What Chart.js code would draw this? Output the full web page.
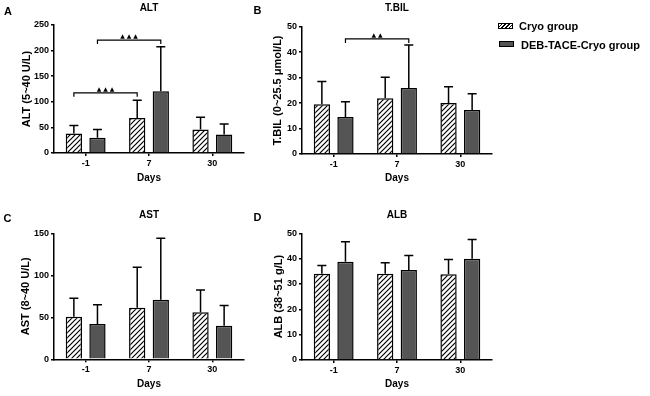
<!DOCTYPE html>
<html lang="en">

<head>
    <meta charset="UTF-8">
    <title>Liver function</title>
    <script src="https://cdn.jsdelivr.net/npm/chart.js"></script>
    <style>
        body {
            margin: 0;
            padding: 0;
            background: #ffffff;
            font-family: 'Liberation Sans', Arial, sans-serif;
        }

        .wrap {
            position: relative;
            width: 650px;
            height: 396px;
        }

        canvas {
            position: absolute;
        }

        .legend-box {
            position: absolute;
            width: 13px;
            height: 4px;
            border: 1px solid #000;
        }

        .legend-text {
            position: absolute;
            font-size: 11px;
            font-weight: bold;
            color: #000;
            line-height: 12px;
            white-space: nowrap;
        }
    </style>
</head>

<body>
    <div class="wrap">
        <canvas id="chartA" width="250" height="196" style="left:0;top:0"></canvas>
        <canvas id="chartB" width="250" height="196" style="left:248px;top:0"></canvas>
        <canvas id="chartC" width="250" height="196" style="left:0;top:200px"></canvas>
        <canvas id="chartD" width="250" height="196" style="left:248px;top:200px"></canvas>

        <div class="legend-box" style="left:498px;top:23px;background:repeating-linear-gradient(135deg,#fff 0,#fff 1.6px,#000 1.6px,#000 2.6px)"></div>
        <div class="legend-text" style="left:519px;top:20px">Cryo group</div>
        <div class="legend-box" style="left:499px;top:41px;background:#555"></div>
        <div class="legend-text" style="left:521px;top:39px">DEB-TACE-Cryo group</div>
    </div>

    <script>
        // means and SD (upper error bar only)
        const days = ['-1', '7', '30'];

        const altCryo = [38, 68.5, 45.7];
        const altCryoSd = [15.5, 34.5, 24.1];
        const altDeb = [30, 120.8, 35.9];
        const altDebSd = [15.7, 86.8, 20.9];

        const tbilCryo = [19.5, 21.9, 20.0];
        const tbilCryoSd = [9.0, 8.2, 6.4];
        const tbilDeb = [14.5, 25.9, 17.3];
        const tbilDebSd = [6.0, 16.9, 6.4];

        const astCryo = [50.8, 61.5, 56];
        const astCryoSd = [21.8, 48, 26.5];
        const astDeb = [42, 71, 40];
        const astDebSd = [23, 73, 23.9];

        const albCryo = [34, 34, 33.8];
        const albCryoSd = [3.3, 4.4, 5.9];
        const albDeb = [38.8, 35.5, 40];
        const albDebSd = [7.9, 5.7, 7.6];

        const FONT = "'Liberation Sans', Arial, sans-serif";

        function makeHatch() {
            const c = document.createElement('canvas');
            c.width = 5;
            c.height = 5;
            const g = c.getContext('2d');
            g.fillStyle = '#fff';
            g.fillRect(0, 0, 5, 5);
            g.strokeStyle = '#000';
            g.lineWidth = 1.2;
            g.beginPath();
            g.moveTo(-1, 6); g.lineTo(6, -1);
            g.moveTo(-1, 1); g.lineTo(1, -1);
            g.moveTo(4, 6); g.lineTo(6, 4);
            g.stroke();
            return g.createPattern(c, 'repeat');
        }

        const hatch = makeHatch();

        // upward error bars with a cap
        const errorBars = {
            id: 'errorBars',
            afterDatasetsDraw(chart) {
                const ctx = chart.ctx;
                const y = chart.scales.y;
                ctx.save();
                ctx.strokeStyle = '#000';
                ctx.lineWidth = 1.5;
                chart.data.datasets.forEach((ds, i) => {
                    chart.getDatasetMeta(i).data.forEach((bar, j) => {
                        const top = y.getPixelForValue(ds.data[j] + ds.sd[j]);
                        ctx.beginPath();
                        ctx.moveTo(bar.x, bar.y);
                        ctx.lineTo(bar.x, top);
                        ctx.moveTo(bar.x - 4.5, top);
                        ctx.lineTo(bar.x + 4.5, top);
                        ctx.stroke();
                    });
                });
                ctx.restore();
            }
        };

        // significance brackets, marks drawn one by one so they sit apart
        const brackets = {
            id: 'brackets',
            afterDatasetsDraw(chart, args, opts) {
                const ctx = chart.ctx;
                const y = chart.scales.y;
                ctx.save();
                ctx.strokeStyle = '#000';
                ctx.fillStyle = '#000';
                ctx.lineWidth = 1.2;
                (opts.items || []).forEach(b => {
                    const x1 = chart.getDatasetMeta(b.from[0]).data[b.from[1]].x;
                    const x2 = chart.getDatasetMeta(b.to[0]).data[b.to[1]].x;
                    const py = y.getPixelForValue(b.y);
                    ctx.beginPath();
                    ctx.moveTo(x1, py + 4);
                    ctx.lineTo(x1, py);
                    ctx.lineTo(x2, py);
                    ctx.lineTo(x2, py + 4);
                    ctx.stroke();
                    ctx.font = "6px 'DejaVu Sans'";
                    ctx.textAlign = 'center';
                    ctx.textBaseline = 'alphabetic';
                    const marks = Array.from(b.mark);
                    const gap = 6.5;
                    const x0 = (x1 + x2) / 2 - gap * (marks.length - 1) / 2;
                    marks.forEach((m, k) => ctx.fillText(m, x0 + k * gap, py - 2));
                });
                ctx.restore();
            }
        };

        // panel title and letter
        const panelText = {
            id: 'panelText',
            afterDraw(chart, args, opts) {
                const ctx = chart.ctx;
                const area = chart.chartArea;
                ctx.save();
                ctx.fillStyle = '#000';
                ctx.textBaseline = 'middle';
                ctx.textAlign = 'center';
                ctx.font = 'bold 10px ' + FONT;
                ctx.fillText(opts.title, (area.left + area.right) / 2, opts.titleY);
                ctx.font = 'bold 11px ' + FONT;
                ctx.fillText(opts.letter, opts.letterX, opts.letterY);
                ctx.restore();
            }
        };

        function makePanel(id, p) {
            const axisGrid = {
                display: true,
                drawOnChartArea: false,
                drawTicks: true,
                tickLength: 3,
                color: '#000',
                lineWidth: 1.5,
                offset: false
            };
            return new Chart(document.getElementById(id), {
                type: 'bar',
                data: {
                    labels: days,
                    datasets: [
                        {
                            label: 'Cryo group',
                            data: p.cryo,
                            sd: p.cryoSd,
                            backgroundColor: hatch,
                            borderColor: '#000',
                            borderWidth: 1.5,
                            categoryPercentage: 0.745,
                            barPercentage: 0.69
                        },
                        {
                            label: 'DEB-TACE-Cryo group',
                            data: p.deb,
                            sd: p.debSd,
                            backgroundColor: '#555555',
                            borderColor: '#000',
                            borderWidth: 1.5,
                            categoryPercentage: 0.745,
                            barPercentage: 0.69
                        }
                    ]
                },
                options: {
                    responsive: false,
                    animation: false,
                    layout: { padding: p.padding },
                    plugins: {
                        legend: { display: false },
                        tooltip: { enabled: false },
                        panelText: p.text,
                        brackets: { items: p.brackets || [] }
                    },
                    scales: {
                        x: {
                            grid: axisGrid,
                            border: { color: '#000', width: 1.5 },
                            ticks: { color: '#000', padding: 2, font: { family: FONT, size: 9, weight: 'bold' } },
                            title: {
                                display: true,
                                text: 'Days',
                                color: '#000',
                                font: { family: FONT, size: 10, weight: 'bold' },
                                padding: { top: 0, bottom: p.daysPad }
                            },
                            afterFit: s => { s.height = p.xHeight; }
                        },
                        y: {
                            min: 0,
                            max: p.max,
                            grid: axisGrid,
                            border: { color: '#000', width: 1.5 },
                            ticks: { stepSize: p.step, color: '#000', padding: 2, font: { family: FONT, size: 9, weight: 'bold' } },
                            title: {
                                display: true,
                                text: p.yTitle,
                                color: '#000',
                                font: { family: FONT, size: 11, weight: 'bold' },
                                padding: { top: p.yTitlePad, bottom: 0 }
                            },
                            afterFit: s => { s.width = 54; }
                        }
                    }
                },
                plugins: [errorBars, brackets, panelText]
            });
        }

        makePanel('chartA', {
            cryo: altCryo, cryoSd: altCryoSd, deb: altDeb, debSd: altDebSd,
            max: 250, step: 50, yTitle: 'ALT (5~40 U/L)', yTitlePad: 20.4,
            padding: { top: 25, right: 6, left: 0, bottom: 0 }, xHeight: 43, daysPad: 12,
            text: { title: 'ALT', titleY: 8.5, letter: 'A', letterX: 8, letterY: 11.5 },
            brackets: [
                { from: [0, 0], to: [0, 1], y: 117.5, mark: '▲▲▲' },
                { from: [1, 0], to: [1, 1], y: 220.6, mark: '▲▲▲' }
            ]
        });

        makePanel('chartB', {
            cryo: tbilCryo, cryoSd: tbilCryoSd, deb: tbilDeb, debSd: tbilDebSd,
            max: 50, step: 10, yTitle: 'T.BIL (0~25.5 μmol/L)', yTitlePad: 23.4,
            padding: { top: 26.7, right: 6, left: 0, bottom: 0 }, xHeight: 42, daysPad: 12,
            text: { title: 'T.BIL', titleY: 8.5, letter: 'B', letterX: 9.5, letterY: 11 },
            brackets: [
                { from: [1, 0], to: [1, 1], y: 45.2, mark: '▲▲' }
            ]
        });

        makePanel('chartC', {
            cryo: astCryo, cryoSd: astCryoSd, deb: astDeb, debSd: astDebSd,
            max: 150, step: 50, yTitle: 'AST (8~40 U/L)', yTitlePad: 19,
            padding: { top: 33.3, right: 6, left: 0, bottom: 0 }, xHeight: 36.7, daysPad: 6,
            text: { title: 'AST', titleY: 15, letter: 'C', letterX: 7.5, letterY: 18.5 }
        });

        makePanel('chartD', {
            cryo: albCryo, cryoSd: albCryoSd, deb: albDeb, debSd: albDebSd,
            max: 50, step: 10, yTitle: 'ALB (38~51 g/L)', yTitlePad: 24,
            padding: { top: 33.3, right: 6, left: 0, bottom: 0 }, xHeight: 36, daysPad: 6,
            text: { title: 'ALB', titleY: 15, letter: 'D', letterX: 9.5, letterY: 18 }
        });
    </script>
</body>

</html>
